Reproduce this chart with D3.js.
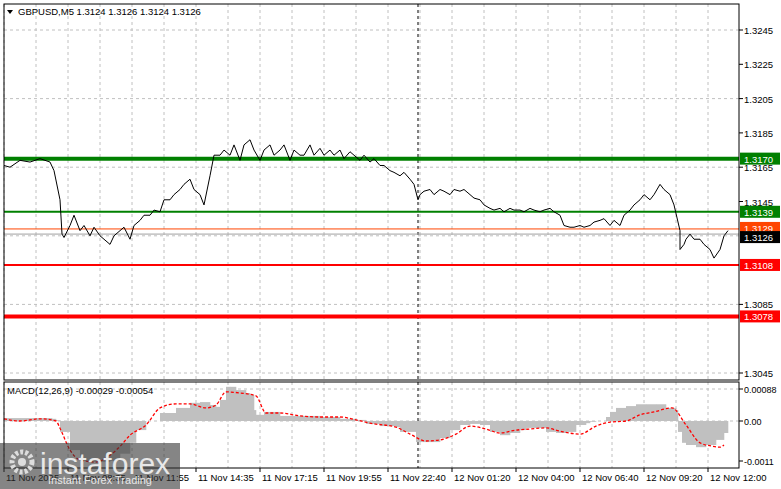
<!DOCTYPE html>
<html><head><meta charset="utf-8">
<script src="https://cdn.jsdelivr.net/npm/d3@7"></script>
<style>body{margin:0;background:#fff}svg{display:block;font-family:"Liberation Sans",Arial,sans-serif}</style>
</head><body><svg id="c" width="781" height="489"></svg>
<script>
const priceBars = [0,3,8,13,18,23,25,28,29,30,33,35,38,40,43,45,48,50,53,55,58,60,63,65,68,70,73,75,78,80,83,85,88,90,93,95,98,100,103,105,108,110,113,115,118,120,123,125,128,130,133,135,138,140,143,145,148,150,153,155,158,160,163,165,168,170,173,175,178,180,183,185,188,190,193,195,198,200,203,205,207,208,210,213,215,218,220,223,225,228,230,233,235,238,240,243,245,248,250,253,255,258,260,263,265,268,270,273,275,278,280,283,285,288,290,293,295,298,300,303,305,308,310,313,315,318,320,323,325,328,330,333,335,338,338,340,341,343,345,348,350,353,355,358,360,362];
const priceVals = [1.3166,1.3165,1.3169,1.3168,1.3170,1.3168,1.3163,1.3146,1.3126,1.3124,1.3131,1.3137,1.3128,1.3131,1.3125,1.3130,1.3125,1.3123,1.3120,1.3125,1.3128,1.3130,1.3123,1.3131,1.3134,1.3137,1.3137,1.3140,1.3139,1.3146,1.3146,1.3149,1.3152,1.3155,1.3158,1.3152,1.3149,1.3143,1.3160,1.3172,1.3172,1.3175,1.3172,1.3178,1.3169,1.3178,1.3181,1.3175,1.3169,1.3175,1.3178,1.3172,1.3175,1.3178,1.3169,1.3175,1.3172,1.3172,1.3178,1.3172,1.3176,1.3172,1.3175,1.3172,1.3175,1.3170,1.3174,1.3172,1.3169,1.3172,1.3168,1.3170,1.3166,1.3166,1.3163,1.3162,1.3160,1.3162,1.3158,1.3155,1.3146,1.3149,1.3151,1.3152,1.3149,1.3152,1.3151,1.3149,1.3152,1.3151,1.3152,1.3149,1.3147,1.3146,1.3143,1.3141,1.3140,1.3141,1.3139,1.3141,1.3140,1.3140,1.3139,1.3141,1.3140,1.3139,1.3140,1.3141,1.3139,1.3137,1.3131,1.3130,1.3130,1.3131,1.3130,1.3131,1.3133,1.3134,1.3135,1.3131,1.3134,1.3131,1.3137,1.3140,1.3143,1.3146,1.3149,1.3146,1.3149,1.3155,1.3152,1.3149,1.3143,1.3128,1.3117,1.3120,1.3123,1.3126,1.3123,1.3123,1.3120,1.3117,1.3112,1.3117,1.3125,1.3128];
const macdBars = [0,8,16,24,26,28,33,38,43,48,53,58,63,66,71,78,86,93,98,103,106,108,111,113,116,121,123,125,126,130,138,148,158,168,176,181,188,196,198,206,213,218,223,228,233,238,243,248,253,258,261,266,271,276,281,286,291,293,296,301,303,306,311,316,321,326,331,336,337,339,341,346,351,356,360];
const macdVals = [0.00008,0.00008,0.00008,0.00006,0.00002,-0.0003,-0.0008,-0.0011,-0.00113,-0.00113,-0.0011,-0.0009,-0.0006,-0.00025,0,0.00022,0.00036,0.0005,0.00052,0.00044,0.00039,0.00058,0.00094,0.00094,0.00085,0.00077,0.00072,0.0003,0.00017,0.00025,0.00014,0.00014,0.00011,0.00006,0.00003,-0.00008,-0.00014,-0.00017,-0.0003,-0.00058,-0.00058,-0.00047,-0.00025,-0.00011,-0.00008,-0.00011,-0.0003,-0.00039,-0.00033,-0.00025,-0.00019,-0.00019,-0.0003,-0.00033,-0.0003,-0.00011,-0.00006,-0.00002,0,0.00011,0.00025,0.00036,0.00041,0.00046,0.00046,0.00046,0.00036,0.0003,-0.0003,-0.0006,-0.00066,-0.00072,-0.00066,-0.00052,-0.00033];
const sigBars = [0,8,18,26,28,33,38,46,53,58,63,71,78,86,93,101,106,111,118,126,131,138,148,158,168,176,183,196,203,211,218,226,233,241,248,256,263,271,278,288,296,303,311,318,325,334,341,348,354,358,360];
const sigVals = [0.00006,0,0.00006,0,-0.0002,-0.0008,-0.00107,-0.00113,-0.00094,-0.0007,-0.00039,-0.00011,0.00036,0.00047,0.00047,0.00036,0.00044,0.0008,0.00077,0.00069,0.00022,0.00022,0.00014,0.00011,0.00011,0.00003,-0.00006,-0.00017,-0.00036,-0.00055,-0.00052,-0.00036,-0.00014,-0.00022,-0.00033,-0.00025,-0.00022,-0.00019,-0.00028,-0.00036,-0.00014,-0.00003,0,0.00017,0.00025,0.00036,-0.00011,-0.0006,-0.00069,-0.00072,-0.00066];
const priceTicks = [1.3245,1.3225,1.3205,1.3185,1.3165,1.3145,1.3085,1.3045];
const macdTicks = [0.00088,0.00,-0.0011];
const macdTickLabels = ["0.00088","0.00","-0.0011"];
const timeLabels = ["11 Nov 2025","11 Nov 08:35","11 Nov 11:55","11 Nov 14:35","11 Nov 17:15","11 Nov 19:55","11 Nov 22:40","12 Nov 01:20","12 Nov 04:00","12 Nov 06:40","12 Nov 09:20","12 Nov 12:00"];
const timeBars = [0,32,64,96,128,160,192,224,256,288,320,352];
const levelVals = [1.3170,1.3139,1.3129,1.3126,1.3108,1.3078];

const levelStyle = [{c:"#008000",w:4},{c:"#008000",w:2},{c:"#ff4500",w:1},{c:"#a0a0a0",w:1,bg:"#000"},{c:"#ff0000",w:2},{c:"#ff0000",w:4}];
const svg=d3.select("#c");
const L=4,R=739,T=4,B=380,MT=382,MB=468;
const x=d3.scaleLinear().domain([0,360]).range([4,724]);
const y=d3.scaleLinear().domain([1.3045,1.3245]).range([373,30]);
const ym=d3.scaleLinear().domain([-0.0011,0.00088]).range([461,389]);

const g=svg.append("g");
for(let b=-16;b<=370;b+=16){const xx=x(b);if(xx<L||xx>R)continue;
 g.append("line").attr("x1",xx).attr("x2",xx).attr("y1",T).attr("y2",B).attr("stroke","#c0c0c0").attr("stroke-dasharray","3,3");
 g.append("line").attr("x1",xx).attr("x2",xx).attr("y1",MT).attr("y2",MB).attr("stroke","#c0c0c0").attr("stroke-dasharray","3,3");}
[1.3245,1.3205,1.3165,1.3125,1.3085,1.3045].forEach(v=>g.append("line").attr("x1",L).attr("x2",R).attr("y1",y(v)).attr("y2",y(v)).attr("stroke","#c0c0c0").attr("stroke-dasharray","3,3"));
[0.00088,0].forEach(v=>g.append("line").attr("x1",L).attr("x2",R).attr("y1",ym(v)).attr("y2",ym(v)).attr("stroke","#c0c0c0").attr("stroke-dasharray","3,3"));
svg.append("line").attr("x1",418).attr("x2",418).attr("y1",T).attr("y2",MB).attr("stroke","#000").attr("stroke-dasharray","3,3");

const nM=Math.min(macdBars.length,macdVals.length);
for(let i=0;i<nM;i++){const b=macdBars[i];const nb=i<nM-1?macdBars[i+1]:b+2;const v=macdVals[i];
 svg.append("rect").attr("x",x(b)).attr("width",Math.max(0.5,x(nb)-x(b)+0.3)).attr("y",Math.min(ym(v),ym(0))).attr("height",Math.abs(ym(v)-ym(0))).attr("fill","#c0c0c0");}
const nS=Math.min(sigBars.length,sigVals.length);
const sigPts=[];for(let i=0;i<nS;i++)sigPts.push([x(sigBars[i]),ym(sigVals[i])]);
svg.append("path").attr("d",d3.line().curve(d3.curveMonotoneX)(sigPts))
 .attr("fill","none").attr("stroke","#ff0000").attr("stroke-width",1.3).attr("stroke-dasharray","3,2");

levelVals.forEach((v,i)=>svg.append("line").attr("x1",L).attr("x2",R).attr("y1",y(v)).attr("y2",y(v)).attr("stroke",levelStyle[i].c).attr("stroke-width",levelStyle[i].w));
const nP=Math.min(priceBars.length,priceVals.length);
const pPts=[];for(let i=0;i<nP;i++)pPts.push([x(priceBars[i]),y(priceVals[i])]);
svg.append("path").attr("d",d3.line()(pPts)).attr("fill","none").attr("stroke","#000").attr("stroke-width",1);

svg.append("rect").attr("x",L).attr("y",T).attr("width",R-L).attr("height",B-T).attr("fill","none").attr("stroke","#000");
svg.append("rect").attr("x",L).attr("y",MT).attr("width",R-L).attr("height",MB-MT).attr("fill","none").attr("stroke","#000");

const fs=9.5;
priceTicks.forEach(v=>{svg.append("line").attr("x1",R).attr("x2",R+4).attr("y1",y(v)).attr("y2",y(v)).attr("stroke","#000");
 svg.append("text").attr("x",R+5).attr("y",y(v)+4).attr("font-size",fs).text(v.toFixed(4));});
macdTicks.forEach((v,i)=>{svg.append("line").attr("x1",R).attr("x2",R+4).attr("y1",ym(v)).attr("y2",ym(v)).attr("stroke","#000");
 svg.append("text").attr("x",R+5).attr("y",ym(v)+4).attr("font-size",9).text(macdTickLabels[i]);});
levelVals.forEach((v,i)=>{const s=levelStyle[i];const yy=y(v);const ty=i==2?yy-1:(i==3?yy+3:yy);
 svg.append("rect").attr("x",R+1).attr("y",ty-6).attr("width",40).attr("height",12).attr("fill",s.bg||s.c);
 svg.append("text").attr("x",R+5).attr("y",ty+4).attr("font-size",fs).attr("fill","#fff").text(v.toFixed(4));});

timeBars.forEach((b,i)=>{const xx=x(b);svg.append("line").attr("x1",xx).attr("x2",xx).attr("y1",MB).attr("y2",MB+4).attr("stroke","#000");
 svg.append("text").attr("x",xx+2).attr("y",481).attr("font-size",9.5).text(timeLabels[i]);});

svg.append("path").attr("d","M7,10 L13,10 L10,14 Z").attr("fill","#000");
svg.append("text").attr("x",18).attr("y",15).attr("font-size",9.5).text("GBPUSD,M5  1.3124 1.3126 1.3124 1.3126");
svg.append("text").attr("x",7).attr("y",394).attr("font-size",9.5).text("MACD(12,26,9) -0.00029 -0.00054");

const lg=svg.append("g");
lg.append("rect").attr("x",0).attr("y",443).attr("width",180).attr("height",46).attr("fill","#333").attr("opacity",0.6);
lg.append("circle").attr("cx",22).attr("cy",462).attr("r",10).attr("fill","none").attr("stroke","#ddd").attr("stroke-width",5).attr("stroke-dasharray","3,2");
lg.append("circle").attr("cx",22).attr("cy",462).attr("r",4).attr("fill","#ddd");
lg.append("text").attr("x",40).attr("y",474).attr("font-size",30).attr("fill","#e8e8e8").text("instaforex");
lg.append("text").attr("x",48).attr("y",484).attr("font-size",11).attr("fill","#e8e8e8").text("Instant Forex Trading");
</script></body></html>
